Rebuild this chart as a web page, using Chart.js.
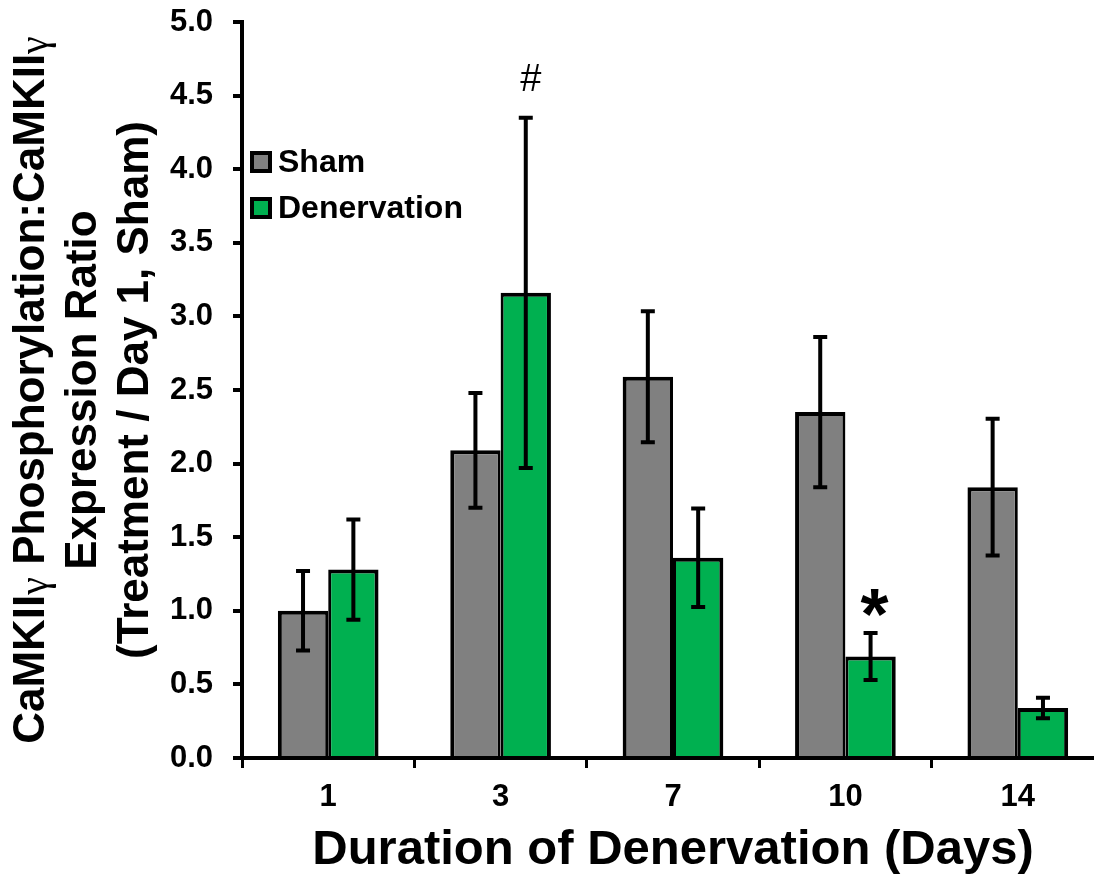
<!DOCTYPE html>
<html><head><meta charset="utf-8">
<script src="https://cdn.jsdelivr.net/npm/chart.js@4.4.1/dist/chart.umd.min.js"></script>
<style>html,body{margin:0;padding:0;background:#fff;overflow:hidden;width:1094px;height:880px}canvas{display:block}</style>
</head><body><canvas id="c" width="1110" height="880"></canvas>
<script>
const categories = ['1', '3', '7', '10', '14'];
const seriesNames = ['Sham', 'Denervation'];
const shamValues = [1.00, 2.09, 2.59, 2.35, 1.84];
const shamErrors = [0.27, 0.39, 0.445, 0.51, 0.465];
const denervationValues = [1.28, 3.16, 1.36, 0.69, 0.34];
const denervationErrors = [0.34, 1.19, 0.335, 0.16, 0.07];
const yTickValues = [0.0, 0.5, 1.0, 1.5, 2.0, 2.5, 3.0, 3.5, 4.0, 4.5, 5.0];
const markers = [
  { dataset: 1, index: 1, text: '#' },
  { dataset: 1, index: 3, text: '*' }
];
// y-axis title lines, split into [text, isGreekSymbol] runs
const yTitleLines = [
  [['CaMKII', false], ['γ', true], [' Phosphorylation:CaMKII', false], ['γ', true]],
  [['Expression Ratio', false]],
  [['(Treatment / Day 1, Sham)', false]]
];
const xTitle = 'Duration of Denervation (Days)';

const FONT = "'Liberation Sans', Arial, sans-serif";
const errorsByDataset = [shamErrors, denervationErrors];
const valuesByDataset = [shamValues, denervationValues];

const errorBarPlugin = {
  id: 'errorBars',
  afterDatasetsDraw(chart) {
    const ctx = chart.ctx;
    const y = chart.scales.y;
    ctx.save();
    ctx.strokeStyle = '#000';
    ctx.lineWidth = 4;
    ctx.lineCap = 'butt';
    chart.data.datasets.forEach((ds, di) => {
      const meta = chart.getDatasetMeta(di);
      meta.data.forEach((bar, i) => {
        const v = valuesByDataset[di][i], e = errorsByDataset[di][i];
        const x = bar.x;
        const yt = y.getPixelForValue(v + e);
        const yb = y.getPixelForValue(v - e);
        ctx.beginPath();
        ctx.moveTo(x, yt); ctx.lineTo(x, yb);
        ctx.moveTo(x - 7, yt); ctx.lineTo(x + 7, yt);
        ctx.moveTo(x - 7, yb); ctx.lineTo(x + 7, yb);
        ctx.stroke();
      });
    });
    markers.forEach(m => {
      const bar = chart.getDatasetMeta(m.dataset).data[m.index];
      const top = y.getPixelForValue(valuesByDataset[m.dataset][m.index] + errorsByDataset[m.dataset][m.index]);
      ctx.fillStyle = '#000';
      ctx.textAlign = 'center';
      ctx.textBaseline = 'middle';
      if (m.text === '#') {
        ctx.font = '38px ' + FONT;
        ctx.fillText(m.text, bar.x + 5, top - 37);
      } else {
        ctx.font = 'bold 72px ' + FONT;
        ctx.fillText(m.text, bar.x + 4, top - 14);
      }
    });
    ctx.restore();
  }
};

const yTitlePlugin = {
  id: 'yTitle',
  afterDraw(chart) {
    const ctx = chart.ctx;
    const a = chart.chartArea;
    const cy = (a.top + a.bottom) / 2;
    const lineX = [32, 84, 136];
    const mainFont = 'bold 44px ' + FONT;
    const symFont = '40px "Liberation Serif", serif';
    ctx.save();
    ctx.fillStyle = '#000';
    ctx.textBaseline = 'middle';
    ctx.textAlign = 'left';
    yTitleLines.forEach((runs, li) => {
      let total = 0;
      const widths = runs.map(([t, sym]) => { ctx.font = sym ? symFont : mainFont; const w = ctx.measureText(t).width; total += w; return w; });
      ctx.save();
      ctx.translate(lineX[li], cy);
      ctx.rotate(-Math.PI / 2);
      let x = -total / 2;
      runs.forEach(([t, sym], ri) => {
        ctx.font = sym ? symFont : mainFont;
        ctx.fillText(t, x, sym ? 4 : 0);
        x += widths[ri];
      });
      ctx.restore();
    });
    ctx.restore();
  }
};

const legendPlugin = {
  id: 'customLegend',
  afterDraw(chart) {
    const ctx = chart.ctx;
    const a = chart.chartArea;
    ctx.save();
    chart.data.datasets.forEach((ds, i) => {
      const cx = a.left + 8, cy = a.top + 140 + i * 46;
      ctx.fillStyle = '#000';
      ctx.fillRect(cx, cy - 11, 22, 22);
      ctx.fillStyle = ds.backgroundColor;
      ctx.fillRect(cx + 4, cy - 7, 14, 14);
      ctx.fillStyle = '#000';
      ctx.font = 'bold 32px ' + FONT;
      ctx.textAlign = 'left';
      ctx.textBaseline = 'middle';
      ctx.fillText(ds.label, cx + 28, cy + 1);
    });
    ctx.restore();
  }
};

new Chart(document.getElementById('c'), {
  type: 'bar',
  data: {
    labels: categories,
    datasets: [
      { label: seriesNames[0], data: shamValues, backgroundColor: '#808080', borderColor: '#000',
        borderWidth: { left: 4, right: 3, top: 4, bottom: 0 }, borderSkipped: false },
      { label: seriesNames[1], data: denervationValues, backgroundColor: '#00B050', borderColor: '#000',
        borderWidth: { left: 3, right: 4, top: 4, bottom: 0 }, borderSkipped: false }
    ]
  },
  options: {
    responsive: false,
    animation: false,
    devicePixelRatio: 1,
    layout: { padding: { top: 22, right: 6, left: 0, bottom: 0 } },
    datasets: { bar: { categoryPercentage: 0.584, barPercentage: 1.0 } },
    plugins: { legend: { display: false }, tooltip: { enabled: false } },
    scales: {
      x: {
        afterFit(s) { s.height = 122; s.paddingLeft = 0; s.paddingRight = 0; },
        grid: { drawOnChartArea: false, drawTicks: true, tickLength: 10, lineWidth: 3, color: '#000', offset: true },
        border: { display: true, width: 4, color: '#000' },
        ticks: { color: '#000', font: { family: FONT, size: 31, weight: 'bold' }, padding: 11 },
        title: { display: true, text: xTitle, color: '#000', font: { family: FONT, size: 49, weight: 'bold', lineHeight: 1.2 }, padding: { top: 0, bottom: 0 } }
      },
      y: {
        min: 0, max: 5,
        afterFit(s) { s.width = 242; s.paddingTop = 0; s.paddingBottom = 0; },
        afterBuildTicks(s) { s.ticks = yTickValues.map(v => ({ value: v })); },
        grid: { drawOnChartArea: false, drawTicks: true, tickLength: 9, lineWidth: 4, color: '#000' },
        border: { display: true, width: 4, color: '#000' },
        ticks: { color: '#000', font: { family: FONT, size: 31, weight: 'bold' }, padding: 20,
          callback: (v) => Number(v).toFixed(1) },
        title: { display: false }
      }
    }
  },
  plugins: [errorBarPlugin, yTitlePlugin, legendPlugin]
});
</script></body></html>
